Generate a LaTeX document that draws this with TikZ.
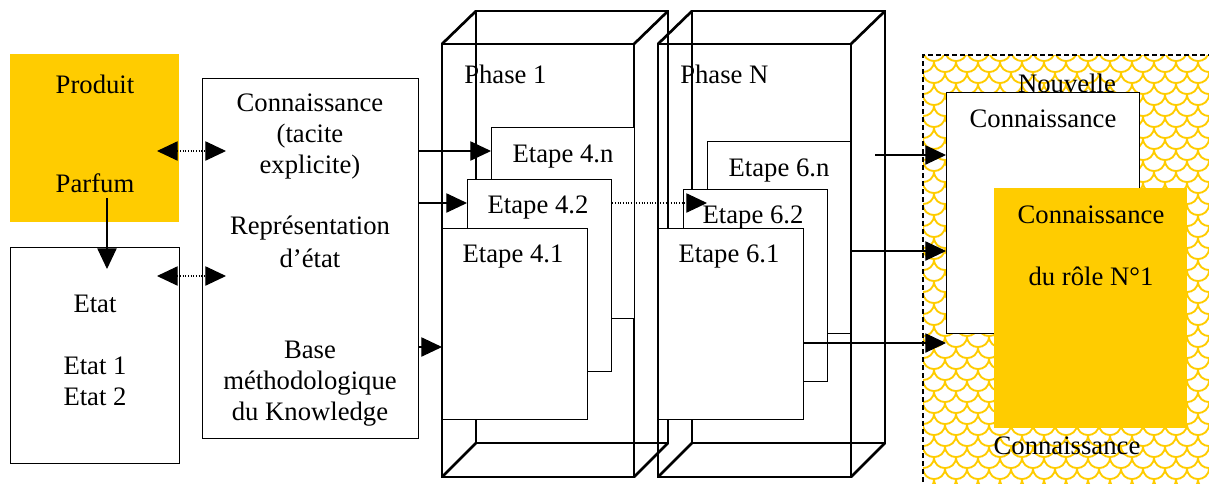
\documentclass[tikz,border=0pt]{standalone}
\usepackage{fontspec}
\setmainfont{Liberation Serif}
\usetikzlibrary{arrows.meta}
\definecolor{gold}{HTML}{FFCC00}
\begin{document}
\begin{tikzpicture}[x=0.75pt,y=-0.75pt,
  txt/.style={font=\fontsize{20}{23.25}\selectfont, inner sep=0pt, align=center},
  box/.style={draw, line width=0.9pt, fill=white, inner sep=0pt, anchor=north west},
  goldbox/.style={fill=gold, inner sep=0pt, anchor=north west},
  cub/.style={line width=2pt, line join=miter},
  arr/.style={line width=0.8pt, -{Triangle[length=15.5pt,width=14.5pt]}},
  dblarr/.style={line width=0.8pt, dash pattern=on 0.8pt off 1.2pt, {Triangle[length=15.5pt,width=14.5pt]}-{Triangle[length=15.5pt,width=14.5pt]}},
  arrdot/.style={arr, dash pattern=on 0.8pt off 1.2pt},
  pat/.style={gold, line width=1.4pt},
  border/.style={line width=0.8pt, dash pattern=on 3.75pt off 2.25pt}]
\useasboundingbox (0,0) rectangle (1209,483);

% level coordinates
\coordinate (l1) at (0,151);
\coordinate (l2) at (0,203);
\coordinate (l3) at (0,347);
\coordinate (r1) at (0,155);
\coordinate (r2) at (0,251);
\coordinate (r3) at (0,343);

% left boxes
\node[goldbox, minimum width=126.75pt, minimum height=126pt] (prod) at (10,54) {};
\node[txt, anchor=base] (prodtxt) at (95,192) {Produit\\[51pt]Parfum};
\node[box, minimum width=126.75pt, minimum height=162pt] (etat) at (10,247) {};
\node[txt, anchor=base] (etattxt) at (95,405) {Etat\\[23.25pt]Etat 1\\Etat 2};
\node[box, minimum width=162pt, minimum height=270pt] (mid) at (202,78) {};
\node[txt, anchor=base] (midtxt) at (310,420) {Connaissance\\(tacite\\explicite)\\[22.5pt]Représentation\\[1.5pt]d’état\\[45pt]Base\\méthodologique\\du Knowledge};

% cuboids
\draw[cub] (442,44) rectangle (634,477);
\draw[cub] (476,11) rectangle (668,443);
\draw[cub] (442,44) -- (476,11) (634,44) -- (668,11) (442,477) -- (476,443) (634,477) -- (668,443);
\draw[cub] (658,44) rectangle (851,477);
\draw[cub] (692,11) rectangle (885,443);
\draw[cub] (658,44) -- (692,11) (851,44) -- (885,11) (658,477) -- (692,443) (851,477) -- (885,443);
\node[txt, anchor=base west] (ph1) at (464,83) {Phase 1};
\node[txt, anchor=base west] (phn) at (680,83) {Phase N};

% etapes
\node[box, minimum width=107.25pt, minimum height=143.25pt] (e4n) at (491,127) {};
\node[txt, anchor=base] (e4nt) at (563,162) {Etape 4.n};
\node[box, minimum width=108pt, minimum height=144pt] (e42) at (467,179) {};
\node[txt, anchor=base] (e42t) at (538,213) {Etape 4.2};
\node[box, minimum width=108.75pt, minimum height=143.25pt] (e41) at (442,228) {};
\node[txt, anchor=base] (e41t) at (513,262) {Etape 4.1};
\node[box, minimum width=107.25pt, minimum height=144pt] (e6n) at (707,141) {};
\node[txt, anchor=base] (e6nt) at (779,176) {Etape 6.n};
\node[box, minimum width=108pt, minimum height=144pt] (e62) at (683,189) {};
\node[txt, anchor=base] (e62t) at (753,223) {Etape 6.2};
\node[box, minimum width=108.75pt, minimum height=143.25pt] (e61) at (658,228) {};
\node[txt, anchor=base] (e61t) at (729,262) {Etape 6.1};

% patterned region
\begin{scope}
\clip (923,55) rectangle (1212,486);
\foreach \j in {0,...,40}{
  \foreach \i in {-1,...,14}{
    \pgfmathsetmacro\xa{923+22*\i+11*mod(\j,2)}
    \pgfmathsetmacro\xb{\xa+22}
    \pgfmathsetmacro\ya{50+11*\j}
    \pgfmathsetmacro\yb{\ya+14.7}
    \draw[pat] (\xa,\ya) .. controls (\xa,\yb) and (\xb,\yb) .. (\xb,\ya);
  }
}
\end{scope}
\draw[border] (923,490) -- (923,55) -- (1215,55);

\node[box, minimum width=144.75pt, minimum height=180.75pt] (nk) at (946,92) {};
\node[txt, anchor=base] (nouv) at (1067,92) {Nouvelle};
\node[txt, anchor=base] (nkt) at (1043,127) {Connaissance};
\node[goldbox, minimum width=144.75pt, minimum height=180pt] (nr1) at (994,188) {};
\node[txt, anchor=base] (nr1t) at (1091,285) {Connaissance\\[23.25pt]du rôle N°1};
\node[txt, anchor=base] (bott) at (1067,454) {Connaissance};

% connectors
\coordinate (d1) at (107,198);
\coordinate (d2) at (107,269);
\draw[arr] (d1) -- (d2);
\coordinate (da1) at (157,151);
\coordinate (db1) at (226,151);
\coordinate (da2) at (157,276);
\coordinate (db2) at (226,276);
\draw[dblarr] (da1) -- (db1);
\draw[dblarr] (da2) -- (db2);

\draw[arr] (mid.east |- l1) -- (e4n.west |- l1);
\draw[arr] (mid.east |- l2) -- (e42.west |- l2);
\draw[arr] (mid.east |- l3) -- (e41.west |- l3);
\draw[arrdot] (e42.east |- l2) -- (e6n.west |- l2);

\coordinate (rs1) at (875,155);
\draw[arr] (rs1) -- (nk.west |- r1);
\draw[arr] (e6n.east |- r2) -- (nk.west |- r2);
\draw[arr] (e61.east |- r3) -- (nk.west |- r3);
\end{tikzpicture}
\end{document}
